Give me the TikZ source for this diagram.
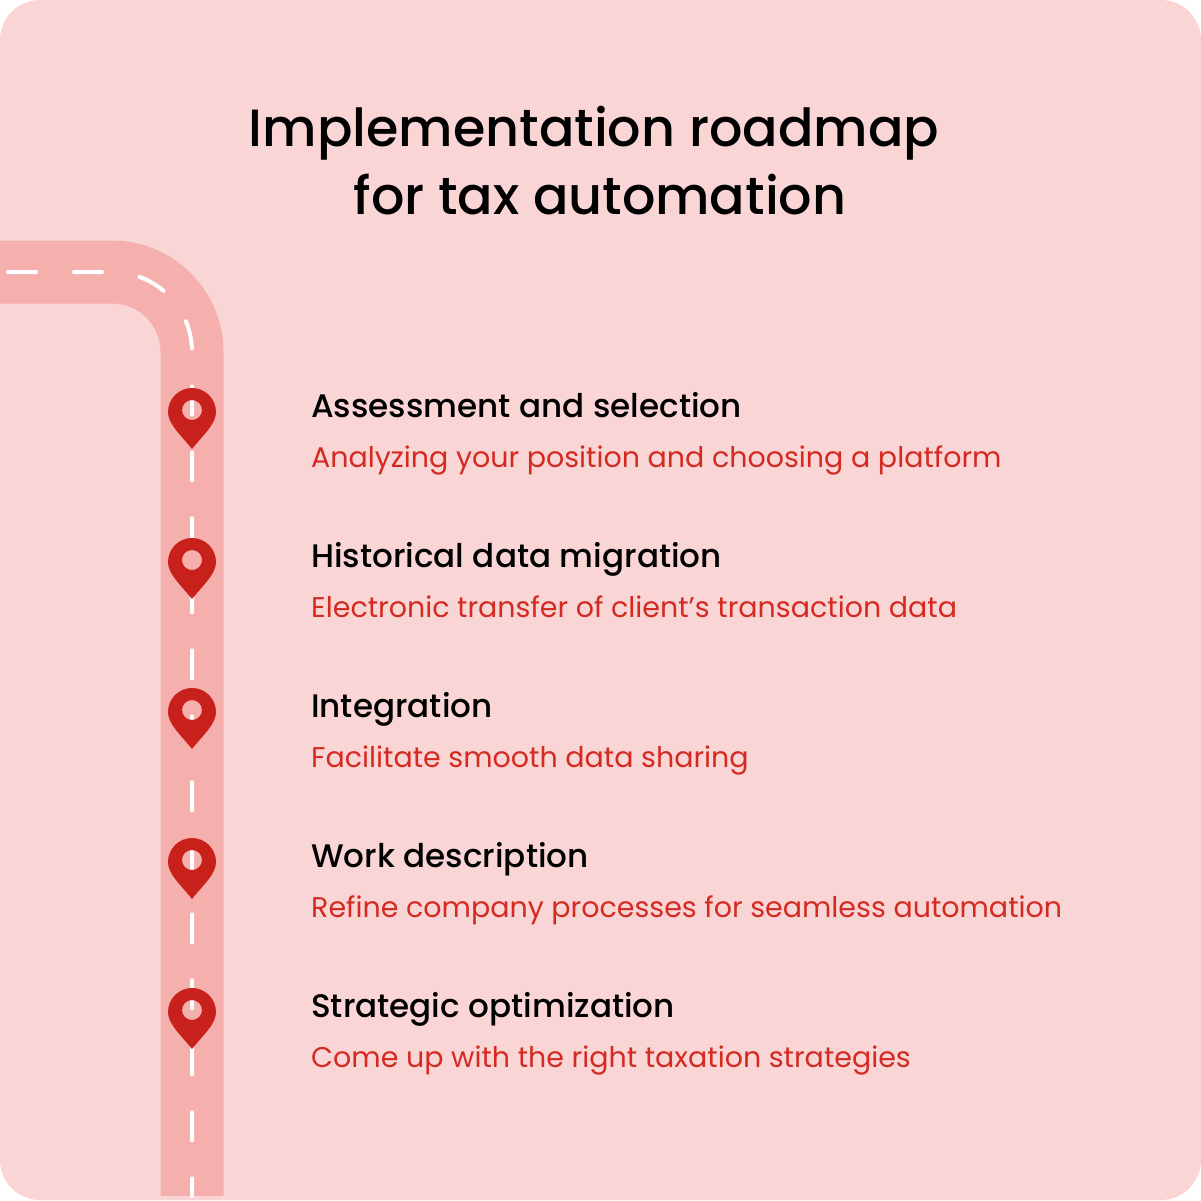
\documentclass[tikz,border=0pt]{standalone}
\usepackage{fontspec}
\setmainfont{Poppins}
\newfontfamily\medfont{Poppins Medium}
\definecolor{bg}{HTML}{F9D6D5}
\definecolor{road}{HTML}{F5B0AE}
\definecolor{pincol}{HTML}{C8201A}
\definecolor{sub}{HTML}{D42A22}
\begin{document}
\begin{tikzpicture}[x=1pt,y=-1pt,
  head/.style={anchor=base west,inner sep=0,font=\medfont\fontsize{32.6}{36}\selectfont},
  subt/.style={anchor=base west,inner sep=0,text=sub,font=\fontsize{28.5}{32}\selectfont},
  ttl/.style={inner sep=0,font=\medfont\fontsize{52.4}{60}\selectfont}]
\useasboundingbox (0,0) rectangle (1201,1200);
\fill[bg] (0,0) [rounded corners=40] rectangle (1201,1200);
\draw[road,line width=63] (0,272) -- (112,272) arc[start angle=-90,end angle=0,radius=80] -- (192,1196);
\draw[white,line width=4,line cap=round,dash pattern=on 28 off 38,dash phase=-8] (0,272) -- (112,272) arc[start angle=-90,end angle=0,radius=80] -- (192,1196);
\foreach \i/\y in {1/388,2/538,3/688,4/838,5/988}{
  \fill[pincol,even odd rule] (192,\y+61) .. controls (180,\y+46) and (168,\y+36) .. (168,\y+24)
     arc[start angle=180,end angle=360,radius=24] .. controls (216,\y+36) and (204,\y+46) .. (192,\y+61)
     (192,\y+22) circle[radius=10];
  \coordinate (p\i) at (192,\y);
}
\node[ttl] (t1) at (594,133) {Implementation roadmap};
\node[ttl] (t2) at (600,195) {for tax automation};
\foreach \i/\y/\h/\s in {1/417/Assessment and selection/Analyzing your position and choosing a platform,
  2/567/Historical data migration/Electronic transfer of client’s transaction data,
  3/717/Integration/Facilitate smooth data sharing,
  4/867/Work description/Refine company processes for seamless automation,
  5/1017/Strategic optimization/Come up with the right taxation strategies}{
  \node[head] (h\i) at (311,\y) {\h};
  \node[subt] (s\i) at (311,\y+50) {\s};
}
\end{tikzpicture}
\end{document}
